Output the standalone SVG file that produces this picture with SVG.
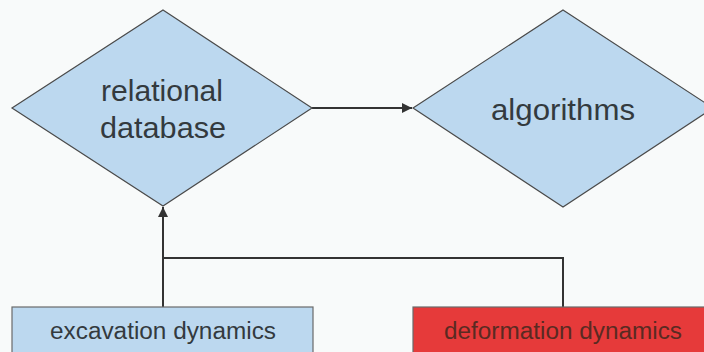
<svg xmlns="http://www.w3.org/2000/svg" width="704" height="352" viewBox="0 0 704 352">
<defs>
<style>
.dia{fill:#bcd8ef;stroke:#4a4a4a;stroke-width:1.2}
.box{stroke:#6a6a6a;stroke-width:1.2}
.t{font-family:"Liberation Sans",Arial,sans-serif;fill:#333a3e;text-anchor:middle}
.big{font-size:29px}
.small{font-size:23px}
.con{fill:none;stroke:#333;stroke-width:2}
</style>
<marker id="arr" viewBox="0 0 10 10" refX="10" refY="5" markerWidth="5" markerHeight="5" orient="auto" markerUnits="strokeWidth">
<path d="M0,0 L10,5 L0,10 z" fill="#333"/>
</marker>
</defs>
<rect width="704" height="352" fill="#f8fafa"/>
<g id="connectors">
<line class="con" x1="312" y1="108" x2="412" y2="108" marker-end="url(#arr)"/>
<line class="con" x1="163" y1="307" x2="163" y2="207" marker-end="url(#arr)"/>
<polyline class="con" points="163,258 563,258 563,307"/>
</g>
<g id="relational-database">
<polygon class="dia" points="163,10 312,108 163,206 12,108"/>
<text class="t big" x="162" y="101" textLength="122" lengthAdjust="spacingAndGlyphs">relational</text>
<text class="t big" x="163" y="138" textLength="126" lengthAdjust="spacingAndGlyphs">database</text>
</g>
<g id="algorithms">
<polygon class="dia" points="563,10 713,108 563,207 413,108"/>
<text class="t big" x="563" y="120" textLength="144" lengthAdjust="spacingAndGlyphs">algorithms</text>
</g>
<g id="excavation-dynamics">
<rect class="box" x="12" y="307" width="301" height="50" fill="#bcd8ef"/>
<text class="t small" x="163" y="339" textLength="226" lengthAdjust="spacingAndGlyphs">excavation dynamics</text>
</g>
<g id="deformation-dynamics">
<rect class="box" x="413" y="307" width="300" height="50" fill="#e63a3a" stroke="#444"/>
<text class="t small" x="563" y="339" textLength="238" lengthAdjust="spacingAndGlyphs" style="fill:#5a2a22">deformation dynamics</text>
</g>
</svg>
